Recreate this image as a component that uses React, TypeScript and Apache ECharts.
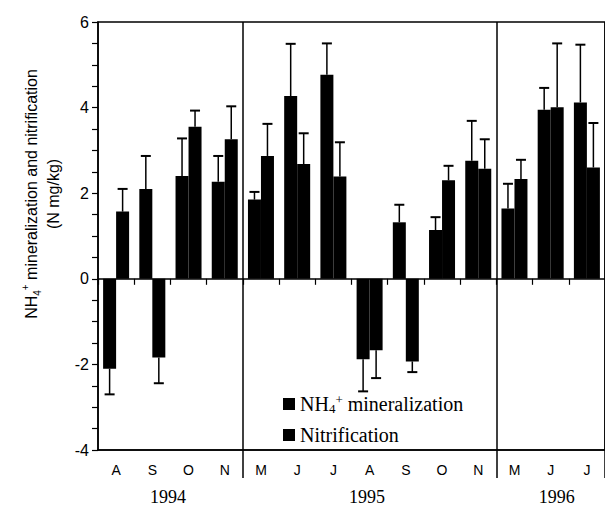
import React, { useEffect, useRef } from 'react';
import * as echarts from 'echarts';

const months = ['A', 'S', 'O', 'N', 'M', 'J', 'J', 'A', 'S', 'O', 'N', 'M', 'J', 'J'];
const years = ['1994', '1995', '1996'];
const yearStarts = [0, 4, 11];
const yearLabelAt = [1.92, 7.37, 12.57];
const nh4 = [-2.1, 2.1, 2.4, 2.27, 1.85, 4.27, 4.77, -1.88, 1.32, 1.14, 2.76, 1.64, 3.95, 4.12];
const nh4Err = [0.6, 0.77, 0.88, 0.6, 0.18, 1.22, 0.73, 0.75, 0.41, 0.3, 0.93, 0.58, 0.51, 1.35];
const nit = [1.57, -1.84, 3.55, 3.26, 2.87, 2.68, 2.39, -1.67, -1.93, 2.3, 2.57, 2.33, 4.01, 2.6];
const nitErr = [0.53, 0.6, 0.38, 0.77, 0.75, 0.72, 0.8, 0.65, 0.25, 0.34, 0.69, 0.45, 1.49, 1.04];

const NH4_NAME = 'NH4+ mineralization';
const NIT_NAME = 'Nitrification';

export default function App() {
  const ref = useRef<HTMLDivElement>(null);
  useEffect(() => {
    const chart = echarts.init(ref.current!, null, { renderer: 'svg' });
    const W = 605;
    const left = 98, top = 22, bottom = 56, right = -4;
    const catW = (W - left - right) / months.length;
    const barW = 13;
    const isSep = (i: number) => yearStarts.slice(1).indexOf(i) >= 0;

    const errSeries = (name: string, vals: number[], errs: number[], offset: number) => ({
      type: 'custom',
      name: name + ' err',
      xAxisIndex: 0,
      yAxisIndex: 0,
      silent: true,
      z: 3,
      data: vals.map((v, i) => [i, v, errs[i]]),
      encode: { x: 0, y: 1 },
      renderItem: (params: any, api: any) => {
        const i = api.value(0);
        const v = api.value(1);
        const e = api.value(2);
        const end = v + (v >= 0 ? e : -e);
        const p0 = api.coord([i, v]);
        const p1 = api.coord([i, end]);
        const x = p0[0] + offset;
        return {
          type: 'group',
          children: [
            { type: 'line', shape: { x1: x, y1: p0[1], x2: x, y2: p1[1] }, style: { stroke: '#000', lineWidth: 1.5 } },
            { type: 'line', shape: { x1: x - 5, y1: p1[1], x2: x + 5, y2: p1[1] }, style: { stroke: '#000', lineWidth: 2 } },
          ],
        };
      },
    });

    const serif = 'Liberation Serif';
    const sans = 'Liberation Sans';
    const legendRich = {
      a: { fontFamily: serif, fontSize: 20, color: '#000', lineHeight: 22, verticalAlign: 'middle' },
      sub: { fontFamily: serif, fontSize: 13, color: '#000', verticalAlign: 'bottom', lineHeight: 12 },
      sup: { fontFamily: serif, fontSize: 13, color: '#000', verticalAlign: 'top', lineHeight: 12 },
    };
    const titleRich = {
      a: { fontFamily: sans, fontSize: 16, color: '#000', lineHeight: 22, verticalAlign: 'middle' },
      sub: { fontFamily: sans, fontSize: 10, color: '#000', verticalAlign: 'bottom', lineHeight: 10 },
      sup: { fontFamily: sans, fontSize: 10, color: '#000', verticalAlign: 'top', lineHeight: 10 },
    };

    chart.setOption({
      animation: false,
      backgroundColor: '#fff',
      grid: { left, top, right, bottom, show: true, borderColor: '#000', borderWidth: 1.5, backgroundColor: 'transparent' },
      legend: {
        orient: 'vertical',
        left: 278,
        top: 388,
        itemWidth: 12,
        itemHeight: 12,
        itemGap: 10,
        icon: 'rect',
        data: [NH4_NAME, NIT_NAME],
        formatter: (n: string) => (n === NIT_NAME ? '{a|Nitrification}' : '{a|NH}{sub|4}{sup|+}{a| mineralization}'),
        textStyle: { rich: legendRich },
      },
      xAxis: [
        {
          type: 'category',
          data: months,
          axisLine: { onZero: true, lineStyle: { color: '#000', width: 1.5 } },
          axisTick: { show: true, length: 6, lineStyle: { color: '#000', width: 1.2 } },
          axisLabel: { show: false },
          splitLine: { show: true, interval: (i: number) => isSep(i), lineStyle: { color: '#000', width: 1.5 } },
        },
        {
          type: 'category',
          data: months,
          position: 'bottom',
          axisLine: { onZero: false, lineStyle: { color: '#000', width: 1.5 } },
          axisTick: { show: true, interval: (i: number) => isSep(i), length: 28, lineStyle: { color: '#000', width: 1.5 } },
          axisLabel: { show: true, interval: 0, margin: 13, fontFamily: sans, fontSize: 14, color: '#000' },
        },
      ],
      yAxis: {
        type: 'value',
        min: -4,
        max: 6,
        interval: 2,
        axisLine: { show: true, onZero: false, lineStyle: { color: '#000', width: 1.5 } },
        axisTick: { show: true, length: 6, lineStyle: { color: '#000', width: 1.2 } },
        minorTick: { show: true, splitNumber: 4, length: 6, lineStyle: { color: '#000', width: 1.2 } },
        splitLine: { show: false },
        axisLabel: { margin: 9, fontFamily: sans, fontSize: 16, color: '#000' },
      },
      graphic: [
        {
          type: 'text',
          x: 42,
          y: 194,
          rotation: Math.PI / 2,
          style: {
            text: '{a|NH}{sub|4}{sup|+}{a| mineralization and nitrification}\n{a|(N mg/kg)}',
            rich: titleRich,
            align: 'center',
            verticalAlign: 'middle',
          },
        },
        ...years.map((y, k) => ({
          type: 'text',
          x: left + catW * yearLabelAt[k],
          y: 497,
          style: { text: y, fontFamily: serif, fontSize: 18, fill: '#000', align: 'center', verticalAlign: 'middle' },
        })),
      ],
      series: [
        { type: 'bar', name: NH4_NAME, data: nh4, barWidth: barW, barGap: '0%', itemStyle: { color: '#000' }, z: 2 },
        { type: 'bar', name: NIT_NAME, data: nit, barWidth: barW, barGap: '0%', itemStyle: { color: '#000' }, z: 2 },
        errSeries(NH4_NAME, nh4, nh4Err, -barW / 2),
        errSeries(NIT_NAME, nit, nitErr, barW / 2),
      ],
    });
    return () => chart.dispose();
  }, []);
  return <div ref={ref} style={{ position: 'fixed', left: 0, top: 0, width: 605, height: 506 }} />;
}
